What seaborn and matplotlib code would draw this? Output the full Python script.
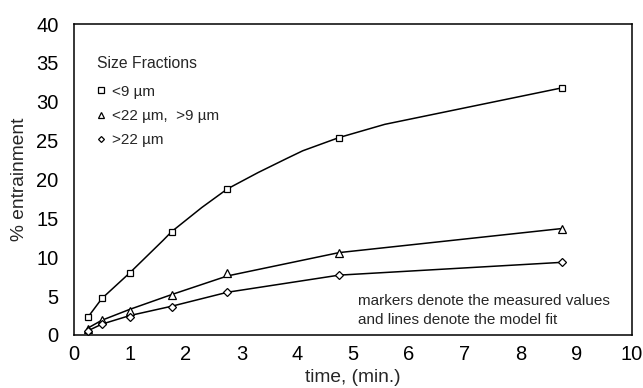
import matplotlib
matplotlib.use("Agg")
import matplotlib.pyplot as plt
from matplotlib.ticker import MultipleLocator
import numpy as np
import pandas as pd
import seaborn as sns

# Measured entrainment (%) at each flotation time (min)
time_meas = [0.25, 0.5, 1.0, 1.75, 2.75, 4.75, 8.75]
fine_meas = [2.3, 4.7, 8.0, 13.3, 18.8, 25.4, 31.8]      # <9 um
mid_meas = [0.8, 1.9, 3.1, 5.2, 8.0, 10.6, 13.7]         # <22 um, >9 um
coarse_meas = [0.55, 1.4, 2.35, 3.6, 5.55, 7.7, 9.35]    # >22 um

# Model fit curves
fine_fit_t = [0.25, 0.5, 1.0, 1.6, 1.75, 2.29, 2.75, 3.3, 3.81, 4.1, 4.75, 5.57, 8.75]
fine_fit = [2.3, 4.7, 8.0, 12.2, 13.3, 16.4, 18.8, 20.9, 22.7, 23.7, 25.4, 27.1, 31.8]
mid_fit_t = [0.25, 0.5, 1.0, 1.75, 2.75, 4.75, 8.75]
mid_fit = [0.9, 1.9, 3.3, 5.2, 7.6, 10.6, 13.7]
coarse_fit_t = [0.25, 0.5, 1.0, 1.75, 2.75, 4.75, 8.75]
coarse_fit = [0.55, 1.4, 2.5, 3.7, 5.5, 7.7, 9.35]

labels = ["<9 µm", "<22 µm,  >9 µm", ">22 µm"]
markers = ["s", "^", "D"]
msizes = [5.0, 5.5, 4.0]

sns.set_style("white")
plt.rcParams["font.family"] = ["Liberation Sans", "DejaVu Sans"]

fig = plt.figure(figsize=(6.43, 3.88), dpi=100)
ax = fig.add_axes([0.1151, 0.1366, 0.8678, 0.8014])

fits = [(fine_fit_t, fine_fit), (mid_fit_t, mid_fit), (coarse_fit_t, coarse_fit)]
meas = [fine_meas, mid_meas, coarse_meas]

for (ft, fv), mv, lab, mk, ms in zip(fits, meas, labels, markers, msizes):
    sns.lineplot(x=ft, y=fv, ax=ax, color="black", linewidth=1.1,
                 sort=False, estimator=None, zorder=2)
    ax.plot(time_meas, mv, linestyle="none", marker=mk, markersize=ms,
            markerfacecolor="white", markeredgecolor="black",
            markeredgewidth=0.9, zorder=3, label=lab)

ax.set_xlim(0, 10)
ax.set_ylim(0, 40)
ax.xaxis.set_major_locator(MultipleLocator(1))
ax.xaxis.set_minor_locator(MultipleLocator(0.2))
ax.yaxis.set_major_locator(MultipleLocator(5))
ax.yaxis.set_minor_locator(MultipleLocator(1))
ax.tick_params(axis="both", which="both", direction="in", color="#888888",
               length=4, width=0.8, top=False, right=False)
ax.tick_params(axis="y", which="major", labelsize=14.5, pad=11, labelcolor="black")
ax.tick_params(axis="x", which="major", labelsize=14.5, pad=7.5, labelcolor="black")

for s in ax.spines.values():
    s.set_color("black")
    s.set_linewidth(1.1)
    s.set_visible(True)

ax.set_xlabel("time, (min.)", fontsize=13.8, labelpad=3)
ax.set_ylabel("% entrainment", fontsize=13.8, labelpad=6)

leg = ax.legend(title="Size Fractions", loc="upper left",
                bbox_to_anchor=(0.041, 0.898), frameon=False, fontsize=11,
                title_fontsize=11.3, handlelength=0.6, handletextpad=0.4,
                labelspacing=0.68, markerscale=0.75, borderaxespad=0,
                borderpad=0)
leg._legend_box.align = "left"
leg._legend_box.sep = 10

ax.text(0.509, 0.08, "markers denote the measured values\nand lines denote the model fit",
        transform=ax.transAxes, fontsize=11, ha="left", va="center",
        linespacing=1.45)

fig.savefig("out.png", dpi=100)
